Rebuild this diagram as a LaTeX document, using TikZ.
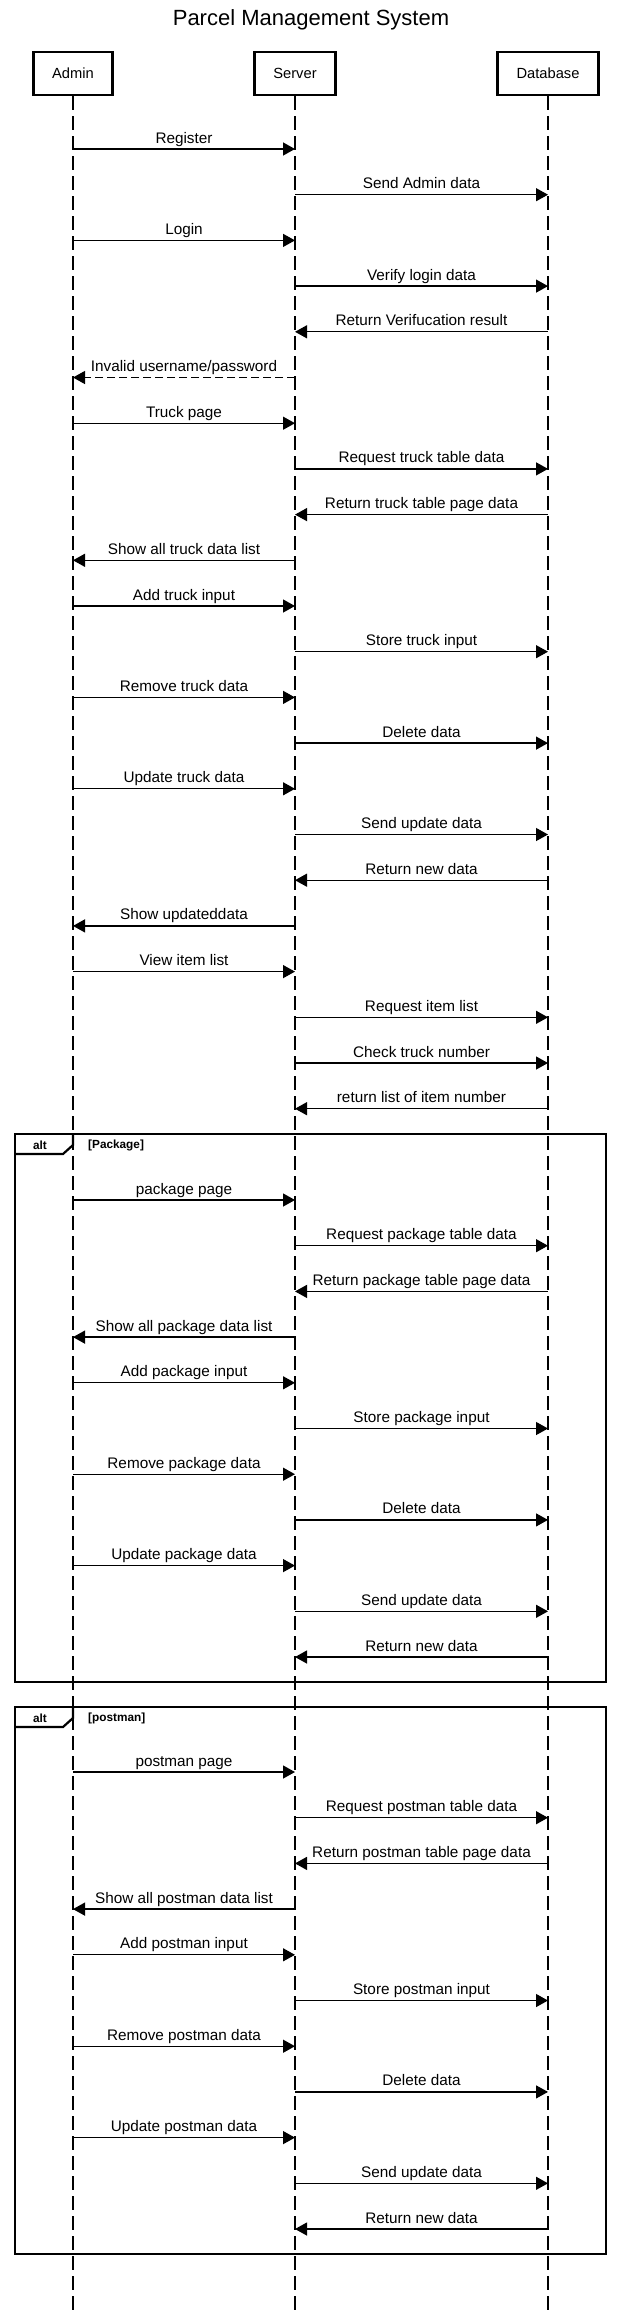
\documentclass[tikz,border=0pt]{standalone}
\usepackage{fontspec}
\setmainfont{Liberation Sans}
\usepackage{tikz}
\usetikzlibrary{arrows.meta,calc,positioning}
\tikzset{
actor/.style={draw, line width=2.8pt, minimum height=43pt, inner sep=0pt, font=\fontsize{14.7}{17}\selectfont}, % participant boxes
lifeline/.style={line width=1.3pt, dash pattern=on 13.5pt off 6.5pt},
msg/.style={line width=1.3pt, -{Triangle[length=12pt,width=13pt]}},
reply/.style={msg, dash pattern=on 8pt off 4pt},
lbl/.style={anchor=base, yshift=6pt, inner sep=0pt, font=\fontsize{15.3}{18}\selectfont},
frame/.style={line width=2.2pt},
guard/.style={inner sep=0pt, font=\bfseries\fontsize{11.8}{14}\selectfont},
}

\begin{document}
\begin{tikzpicture}[x=1pt,y=1pt,yscale=-1,xscale=1]
\useasboundingbox (0,0) rectangle (622,2310);
%Title
\node [font=\fontsize{22}{26}\selectfont] (title) at (311,19.5) {Parcel Management System};
%Participants
\node [actor, minimum width=79pt] (admin) at (73,73.5) {Admin};
\node [actor, minimum width=81pt] (server) at (295,73.5) {Server};
\node [actor, minimum width=101pt] (database) at (548,73.5) {Database};
%Lifelines
\coordinate (adminEnd) at (73,2310);
\coordinate (serverEnd) at (295,2310);
\coordinate (databaseEnd) at (548,2310);
\draw [lifeline] (admin.south) -- (adminEnd);
\draw [lifeline] (server.south) -- (serverEnd);
\draw [lifeline] (database.south) -- (databaseEnd);
%Straight Lines
\coordinate (a1) at (73,149); \coordinate (s1) at (295,149);
\draw [msg] (a1) -- node [lbl] (m1) {Register} (s1);
\coordinate (s2) at (295,194.7); \coordinate (d2) at (548,194.7);
\draw [msg] (s2) -- node [lbl] (m2) {Send Admin data} (d2);
\coordinate (a3) at (73,240.4); \coordinate (s3) at (295,240.4);
\draw [msg] (a3) -- node [lbl] (m3) {Login} (s3);
\coordinate (s4) at (295,286.1); \coordinate (d4) at (548,286.1);
\draw [msg] (s4) -- node [lbl] (m4) {Verify login data} (d4);
\coordinate (d5) at (548,331.8); \coordinate (s5) at (295,331.8);
\draw [msg] (d5) -- node [lbl] (m5) {Return Verifucation result} (s5);
\coordinate (s6) at (295,377.5); \coordinate (a6) at (73,377.5);
\draw [reply] (s6) -- node [lbl] (m6) {Invalid username/password} (a6);
\coordinate (a7) at (73,423.2); \coordinate (s7) at (295,423.2);
\draw [msg] (a7) -- node [lbl] (m7) {Truck page} (s7);
\coordinate (s8) at (295,468.9); \coordinate (d8) at (548,468.9);
\draw [msg] (s8) -- node [lbl] (m8) {Request truck table data} (d8);
\coordinate (d9) at (548,514.6); \coordinate (s9) at (295,514.6);
\draw [msg] (d9) -- node [lbl] (m9) {Return truck table page data} (s9);
\coordinate (s10) at (295,560.3); \coordinate (a10) at (73,560.3);
\draw [msg] (s10) -- node [lbl] (m10) {Show all truck data list} (a10);
\coordinate (a11) at (73,606); \coordinate (s11) at (295,606);
\draw [msg] (a11) -- node [lbl] (m11) {Add truck input} (s11);
\coordinate (s12) at (295,651.7); \coordinate (d12) at (548,651.7);
\draw [msg] (s12) -- node [lbl] (m12) {Store truck input} (d12);
\coordinate (a13) at (73,697.4); \coordinate (s13) at (295,697.4);
\draw [msg] (a13) -- node [lbl] (m13) {Remove truck data} (s13);
\coordinate (s14) at (295,743.1); \coordinate (d14) at (548,743.1);
\draw [msg] (s14) -- node [lbl] (m14) {Delete data} (d14);
\coordinate (a15) at (73,788.8); \coordinate (s15) at (295,788.8);
\draw [msg] (a15) -- node [lbl] (m15) {Update truck data} (s15);
\coordinate (s16) at (295,834.5); \coordinate (d16) at (548,834.5);
\draw [msg] (s16) -- node [lbl] (m16) {Send update data} (d16);
\coordinate (d17) at (548,880.2); \coordinate (s17) at (295,880.2);
\draw [msg] (d17) -- node [lbl] (m17) {Return new data} (s17);
\coordinate (s18) at (295,925.9); \coordinate (a18) at (73,925.9);
\draw [msg] (s18) -- node [lbl] (m18) {Show updateddata} (a18);
\coordinate (a19) at (73,971.6); \coordinate (s19) at (295,971.6);
\draw [msg] (a19) -- node [lbl] (m19) {View item list} (s19);
\coordinate (s20) at (295,1017.3); \coordinate (d20) at (548,1017.3);
\draw [msg] (s20) -- node [lbl] (m20) {Request item list} (d20);
\coordinate (s21) at (295,1063); \coordinate (d21) at (548,1063);
\draw [msg] (s21) -- node [lbl] (m21) {Check truck number} (d21);
\coordinate (d22) at (548,1108.7); \coordinate (s22) at (295,1108.7);
\draw [msg] (d22) -- node [lbl] (m22) {return list of item number} (s22);
%Frame: alt [Package]
\draw [frame] (15,1134) rectangle (606,1682);
\draw [frame] (15,1154) -- (63,1154) -- (73,1145) -- (73,1134);
\node [guard] (alt1) at (40,1145) {alt};
\node [guard, anchor=west] (package) at (88,1145) {[Package]};
%Straight Lines
\coordinate (pa0) at (73,1200); \coordinate (ps0) at (295,1200);
\draw [msg] (pa0) -- node [lbl] (p0) {package page} (ps0);
\coordinate (ps1) at (295,1245.7); \coordinate (pd1) at (548,1245.7);
\draw [msg] (ps1) -- node [lbl] (p1) {Request package table data} (pd1);
\coordinate (pd2) at (548,1291.4); \coordinate (ps2) at (295,1291.4);
\draw [msg] (pd2) -- node [lbl] (p2) {Return package table page data} (ps2);
\coordinate (ps3) at (295,1337.1); \coordinate (pa3) at (73,1337.1);
\draw [msg] (ps3) -- node [lbl] (p3) {Show all package data list} (pa3);
\coordinate (pa4) at (73,1382.8); \coordinate (ps4) at (295,1382.8);
\draw [msg] (pa4) -- node [lbl] (p4) {Add package input} (ps4);
\coordinate (ps5) at (295,1428.5); \coordinate (pd5) at (548,1428.5);
\draw [msg] (ps5) -- node [lbl] (p5) {Store package input} (pd5);
\coordinate (pa6) at (73,1474.2); \coordinate (ps6) at (295,1474.2);
\draw [msg] (pa6) -- node [lbl] (p6) {Remove package data} (ps6);
\coordinate (ps7) at (295,1519.9); \coordinate (pd7) at (548,1519.9);
\draw [msg] (ps7) -- node [lbl] (p7) {Delete data} (pd7);
\coordinate (pa8) at (73,1565.6); \coordinate (ps8) at (295,1565.6);
\draw [msg] (pa8) -- node [lbl] (p8) {Update package data} (ps8);
\coordinate (ps9) at (295,1611.3); \coordinate (pd9) at (548,1611.3);
\draw [msg] (ps9) -- node [lbl] (p9) {Send update data} (pd9);
\coordinate (pd10) at (548,1657); \coordinate (ps10) at (295,1657);
\draw [msg] (pd10) -- node [lbl] (p10) {Return new data} (ps10);
%Frame: alt [postman]
\draw [frame] (15,1707) rectangle (606,2254);
\draw [frame] (15,1727) -- (63,1727) -- (73,1718) -- (73,1707);
\node [guard] (alt2) at (40,1718) {alt};
\node [guard, anchor=west] (postman) at (88,1718) {[postman]};
%Straight Lines
\coordinate (qa0) at (73,1772); \coordinate (qs0) at (295,1772);
\draw [msg] (qa0) -- node [lbl] (q0) {postman page} (qs0);
\coordinate (qs1) at (295,1817.7); \coordinate (qd1) at (548,1817.7);
\draw [msg] (qs1) -- node [lbl] (q1) {Request postman table data} (qd1);
\coordinate (qd2) at (548,1863.4); \coordinate (qs2) at (295,1863.4);
\draw [msg] (qd2) -- node [lbl] (q2) {Return postman table page data} (qs2);
\coordinate (qs3) at (295,1909.1); \coordinate (qa3) at (73,1909.1);
\draw [msg] (qs3) -- node [lbl] (q3) {Show all postman data list} (qa3);
\coordinate (qa4) at (73,1954.8); \coordinate (qs4) at (295,1954.8);
\draw [msg] (qa4) -- node [lbl] (q4) {Add postman input} (qs4);
\coordinate (qs5) at (295,2000.5); \coordinate (qd5) at (548,2000.5);
\draw [msg] (qs5) -- node [lbl] (q5) {Store postman input} (qd5);
\coordinate (qa6) at (73,2046.2); \coordinate (qs6) at (295,2046.2);
\draw [msg] (qa6) -- node [lbl] (q6) {Remove postman data} (qs6);
\coordinate (qs7) at (295,2091.9); \coordinate (qd7) at (548,2091.9);
\draw [msg] (qs7) -- node [lbl] (q7) {Delete data} (qd7);
\coordinate (qa8) at (73,2137.6); \coordinate (qs8) at (295,2137.6);
\draw [msg] (qa8) -- node [lbl] (q8) {Update postman data} (qs8);
\coordinate (qs9) at (295,2183.3); \coordinate (qd9) at (548,2183.3);
\draw [msg] (qs9) -- node [lbl] (q9) {Send update data} (qd9);
\coordinate (qd10) at (548,2229); \coordinate (qs10) at (295,2229);
\draw [msg] (qd10) -- node [lbl] (q10) {Return new data} (qs10);
\end{tikzpicture}
\end{document}
